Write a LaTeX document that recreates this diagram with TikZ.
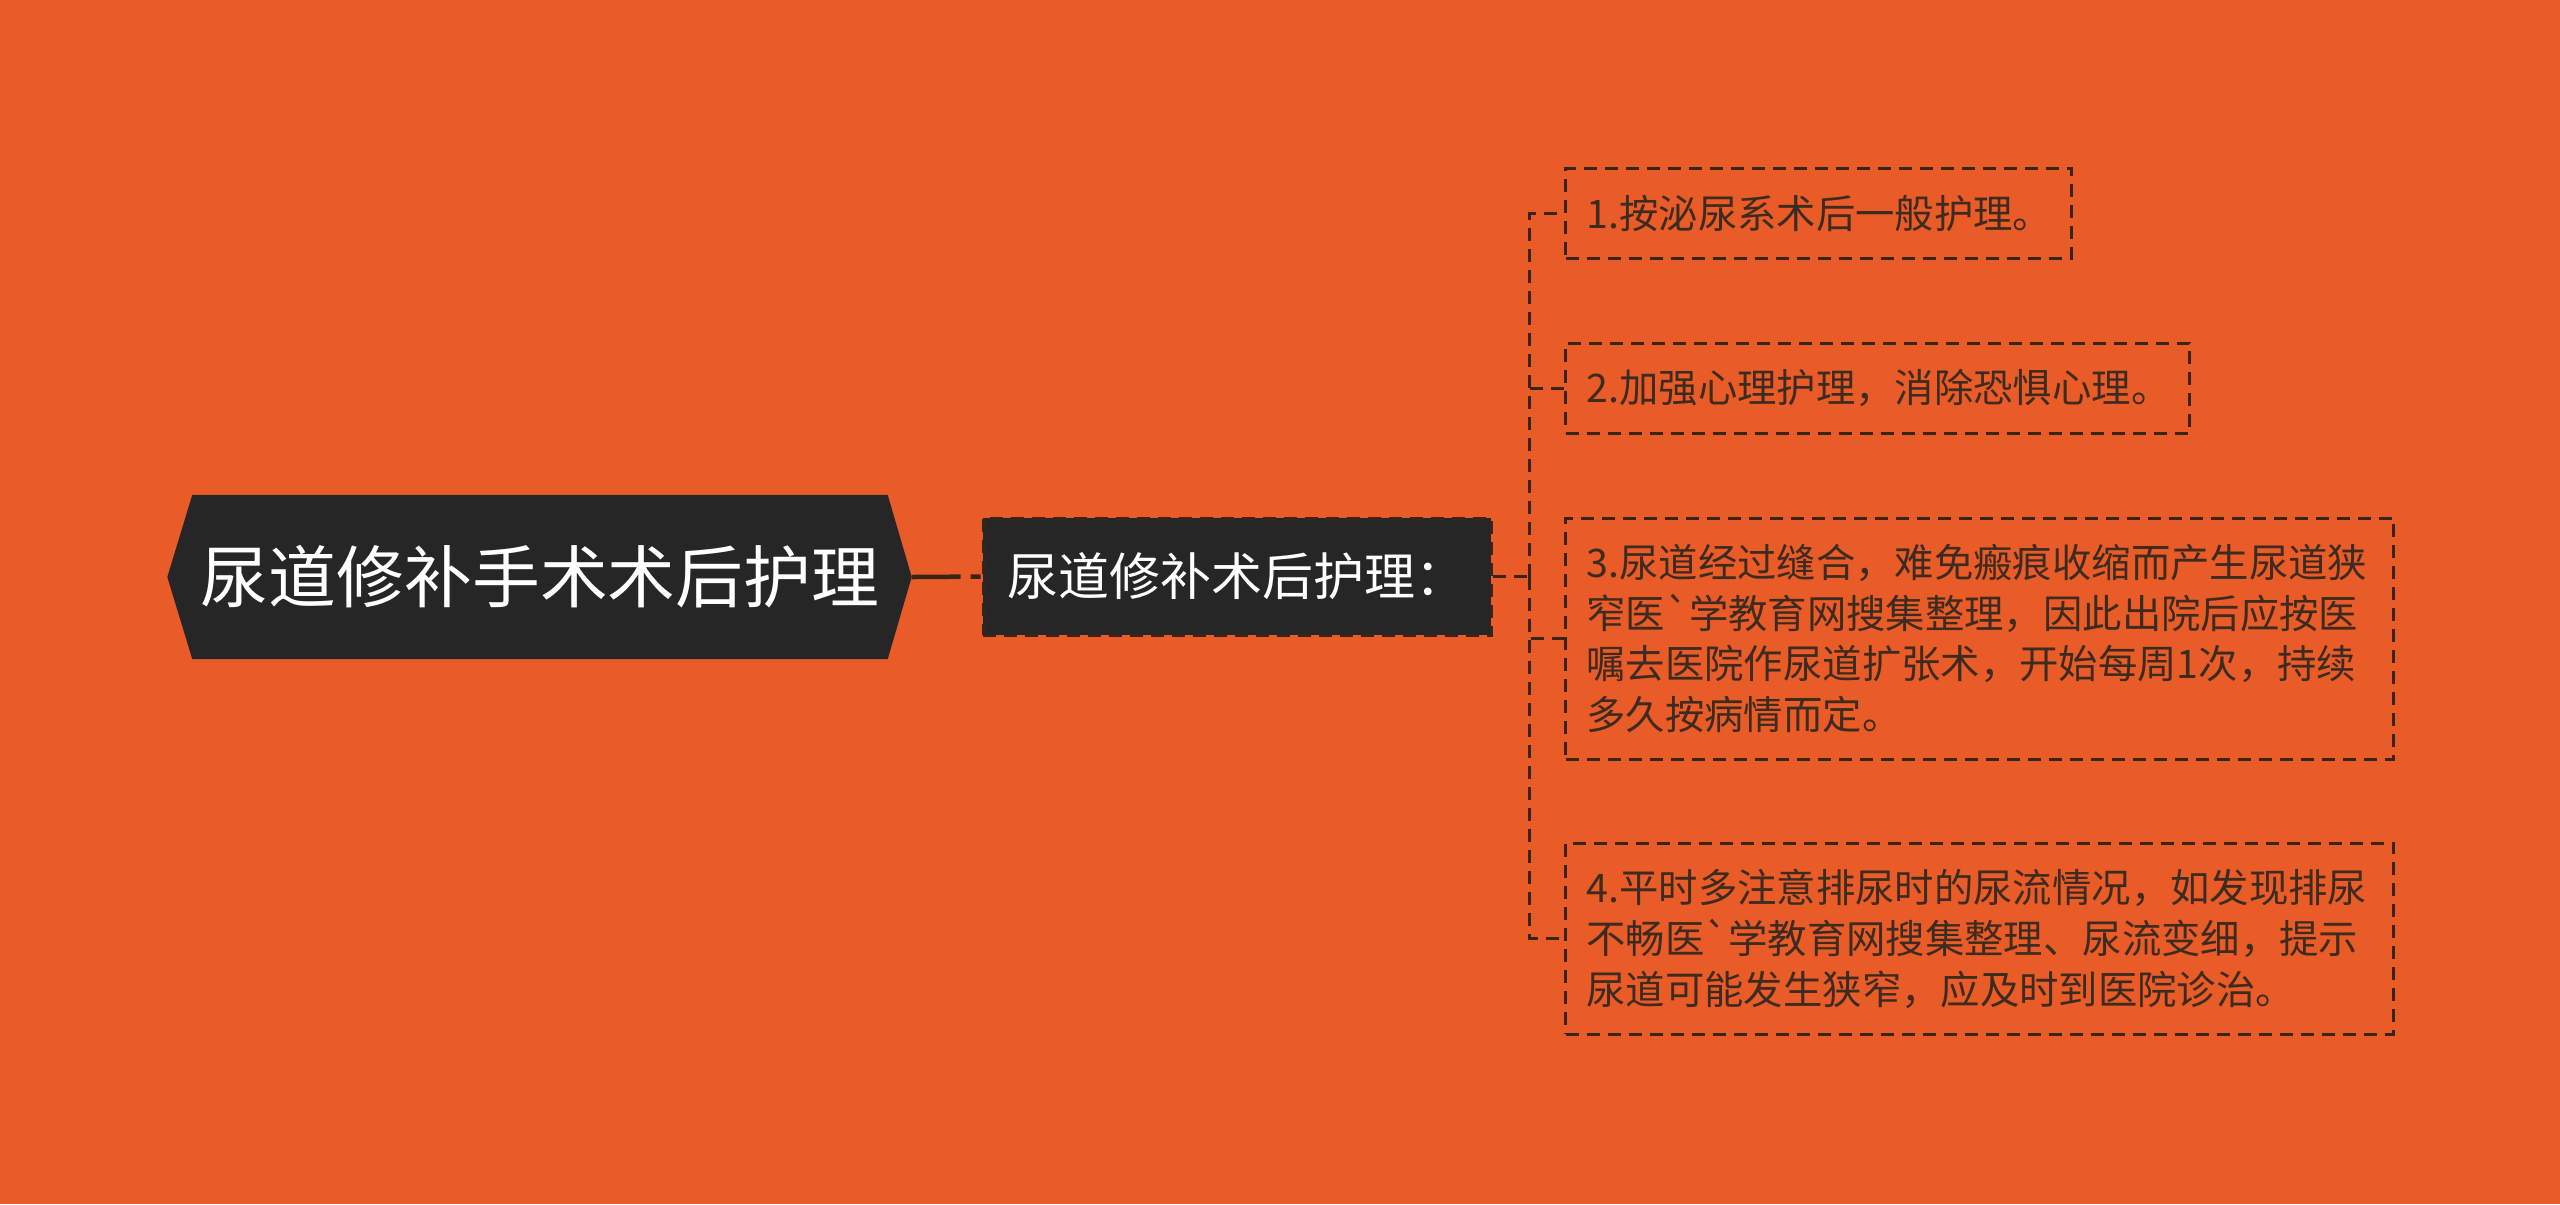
\documentclass[tikz,border=0pt]{standalone}
\usepackage{fontspec}
\setmainfont{Noto Sans CJK SC}
\newfontfamily\plainfont{Noto Sans CJK SC}
\usetikzlibrary{calc,backgrounds}
\definecolor{bg}{HTML}{E95B27}
\definecolor{dark}{HTML}{262626}
\definecolor{linec}{HTML}{3A2418}
\definecolor{txt}{HTML}{3D2B20}
\newcommand{\gravechar}{{\plainfont\symbol{96}}}
\begin{document}
\begin{tikzpicture}[x=0.1mm,y=-0.1mm,
  conn/.style={draw=linec,line width=0.3mm,dash pattern=on 1.3mm off 0.8mm},
  rootbox/.style={minimum width=69.4mm,minimum height=16.3mm,inner sep=0pt,text=white,
    font=\fontsize{19.3pt}{22pt}\selectfont},
  subbox/.style={fill=dark,draw=linec,line width=0.3mm,dash pattern=on 1.3mm off 0.8mm,
    minimum width=50.8mm,minimum height=11.7mm,inner sep=0pt,text=white,
    font=\fontsize{14.5pt}{17pt}\selectfont},
  leaf/.style={draw=linec,line width=0.3mm,dash pattern=on 1.3mm off 0.8mm,
    anchor=west,align=left,inner xsep=2.1mm,inner ysep=0pt,text=txt,
    font=\fontsize{11.2pt}{14.5pt}\selectfont}]
\useasboundingbox (0,0) rectangle (2560,1204);
\node[rootbox] (root) at (540,577) {尿道修补手术术后护理};
\node[subbox] (sub) at (1237,576.5) {尿道修补术后护理：};
\node[leaf,text width=46.4mm,minimum height=9mm] (c1) at (1564,213) {1.按泌尿系术后一般护理。};
\node[leaf,text width=58.2mm,minimum height=9mm] (c2) at (1564,388) {2.加强心理护理，消除恐惧心理。};
\node[leaf,text width=78.6mm,minimum height=24.1mm] (c3) at (1564,638.5) {3.尿道经过缝合，难免瘢痕收缩而产生尿道狭\\窄医\gravechar 学教育网搜集整理，因此出院后应按医\\嘱去医院作尿道扩张术，开始每周1次，持续\\多久按病情而定。};
\node[leaf,text width=78.6mm,minimum height=19.1mm] (c4) at (1564,938.5) {4.平时多注意排尿时的尿流情况，如发现排尿\\不畅医\gravechar 学教育网搜集整理、尿流变细，提示\\尿道可能发生狭窄，应及时到医院诊治。};
\begin{scope}[on background layer]
  \fill[bg] (0,0) rectangle (2560,1204);
  \fill[dark] (root.north west) -- (root.north east) -- ($(root.east)+(24,0)$) -- (root.south east)
    -- (root.south west) -- ($(root.west)+(-25,0)$) -- cycle;
\end{scope}
\coordinate (tipr) at ($(root.east)+(24,0)$);
\draw[draw=linec,line width=0.45mm,dash pattern=on 4.9mm off 1mm on 1mm off 1mm] (tipr) -- (sub.west);
\draw[conn] (sub.east) -- ++(37,0) coordinate (br);
\draw[conn] (br) |- (c1.west);
\draw[conn] (br) |- (c2.west);
\draw[conn] (br) |- (c3.west);
\draw[conn] (br) |- (c4.west);
\end{tikzpicture}
\end{document}
